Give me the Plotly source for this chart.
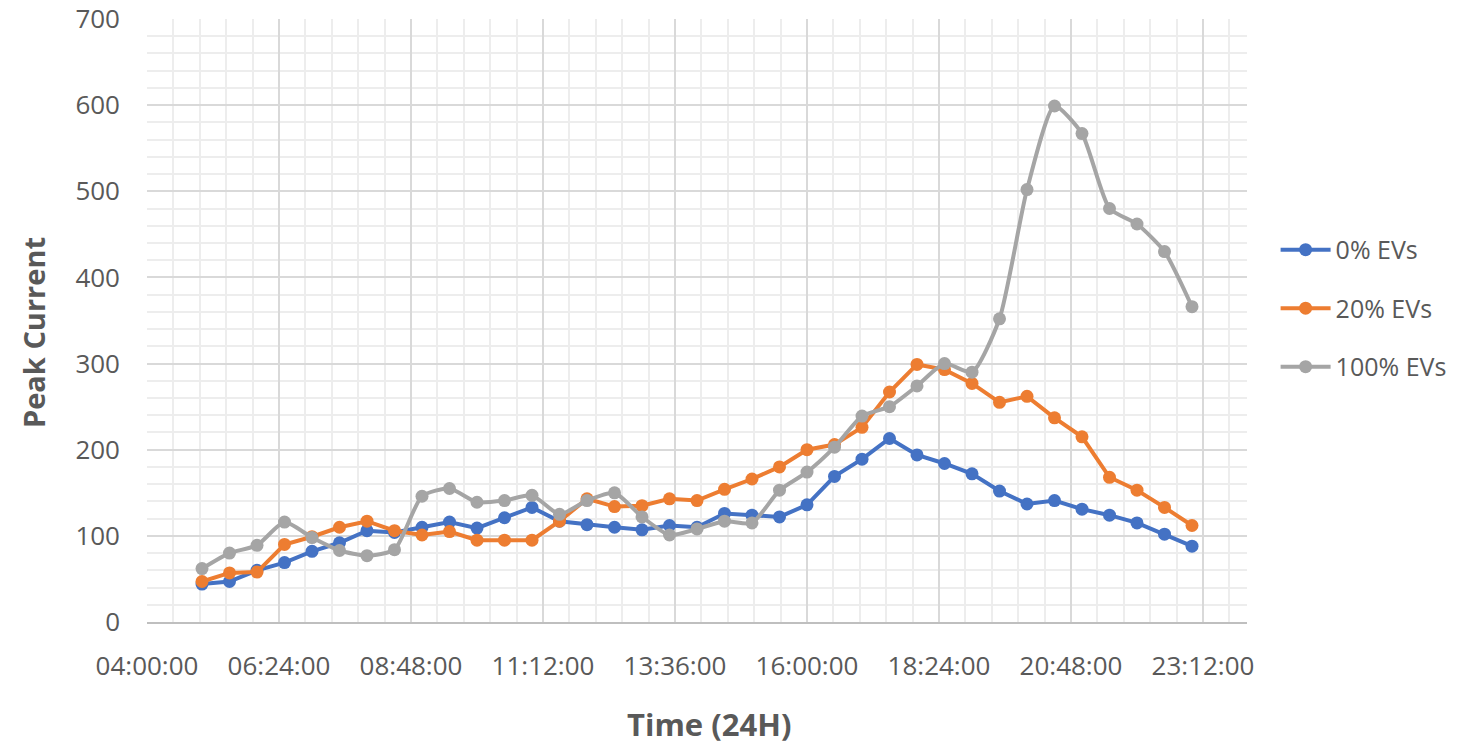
import plotly.graph_objects as go

times = ["05:00", "05:30", "06:00", "06:30", "07:00", "07:30", "08:00", "08:30", "09:00", "09:30",
         "10:00", "10:30", "11:00", "11:30", "12:00", "12:30", "13:00", "13:30", "14:00", "14:30",
         "15:00", "15:30", "16:00", "16:30", "17:00", "17:30", "18:00", "18:30", "19:00", "19:30",
         "20:00", "20:30", "21:00", "21:30", "22:00", "22:30", "23:00"]

ev0 = [44, 47, 60, 69, 82, 92, 106, 104, 110, 116, 109, 121, 133, 117, 113, 110, 107, 112, 110, 126,
       124, 122, 136, 169, 189, 213, 194, 184, 172, 152, 137, 141, 131, 124, 115, 102, 88]
ev20 = [47, 57, 58, 90, 99, 110, 117, 106, 101, 105, 95, 95, 95, 117, 143, 134, 135, 143, 141, 154,
        166, 180, 200, 206, 226, 267, 299, 293, 277, 255, 262, 237, 215, 168, 153, 133, 112]
ev100 = [62, 80, 89, 116, 98, 83, 77, 84, 146, 155, 139, 141, 147, 125, 141, 150, 122, 101, 108, 117,
         115, 153, 174, 203, 239, 250, 274, 300, 290, 352, 502, 599, 567, 480, 462, 430, 366]

x_tick_labels = ["04:00:00", "06:24:00", "08:48:00", "11:12:00", "13:36:00",
                 "16:00:00", "18:24:00", "20:48:00", "23:12:00"]

names = ["0% EVs", "20% EVs", "100% EVs"]
colors = ["#4472C4", "#ED7D31", "#A5A5A5"]


def to_hours(s):
    parts = [int(p) for p in s.split(":")]
    while len(parts) < 3:
        parts.append(0)
    return parts[0] + parts[1] / 60 + parts[2] / 3600


x = [to_hours(t) for t in times]
tickvals = [to_hours(t) for t in x_tick_labels]

fig = go.Figure()
for i, (name, ys, col) in enumerate(zip(names, [ev0, ev20, ev100], colors)):
    fig.add_trace(go.Scatter(
        x=x, y=ys, name=name, mode="lines+markers",
        line=dict(color=col, width=4, shape="spline" if i == 2 else "linear", smoothing=0.6),
        marker=dict(color=col, size=13),
        legendgroup=name,
    ))

font_fam = "'Open Sans', sans-serif"
txt = "#595959"

pw, ph = 1471 - 147 - 224, 744 - 19 - 122

fig.update_layout(
    width=1471, height=744,
    margin=dict(l=147, r=224, t=19, b=122),
    paper_bgcolor="white", plot_bgcolor="white",
    font=dict(family=font_fam, color=txt, size=26),
    showlegend=True,
    legend=dict(x=1.026, y=0.52, xanchor="left", yanchor="middle",
                traceorder="grouped", tracegroupgap=23,
                font=dict(size=25, color=txt), itemwidth=50),
    xaxis=dict(
        range=[4, 24],
        tickvals=tickvals, ticktext=x_tick_labels,
        showgrid=True, gridcolor="#d9d9d9", gridwidth=1.5,
        minor=dict(tick0=4, dtick=2.4 / 5, showgrid=True, gridcolor="#ededed", gridwidth=1.5),
        showline=True, linecolor="#bfbfbf", linewidth=1.5,
        zeroline=False, ticks="", ticklabelstandoff=20, automargin=False,
        tickfont=dict(size=26, color=txt),
    ),
    yaxis=dict(
        range=[0, 700], dtick=100,
        showgrid=True, gridcolor="#d9d9d9", gridwidth=1.5,
        minor=dict(dtick=20, showgrid=True, gridcolor="#ededed", gridwidth=1.5),
        showline=False, zeroline=False, ticks="", ticklabelstandoff=26, automargin=False,
        tickfont=dict(size=26, color=txt),
    ),
    annotations=[
        dict(text="<b>Time (24H)</b>", xref="paper", yref="paper",
             x=(709 - 147) / pw, y=(622 - 724) / ph, xanchor="center", yanchor="middle",
             showarrow=False, font=dict(size=31, color=txt)),
        dict(text="<b>Peak Current</b>", textangle=-90, xref="paper", yref="paper",
             x=(33 - 147) / pw, y=(622 - 333) / ph, xanchor="center", yanchor="middle",
             showarrow=False, font=dict(size=29, color=txt)),
    ],
)

fig.write_html("out.html")
